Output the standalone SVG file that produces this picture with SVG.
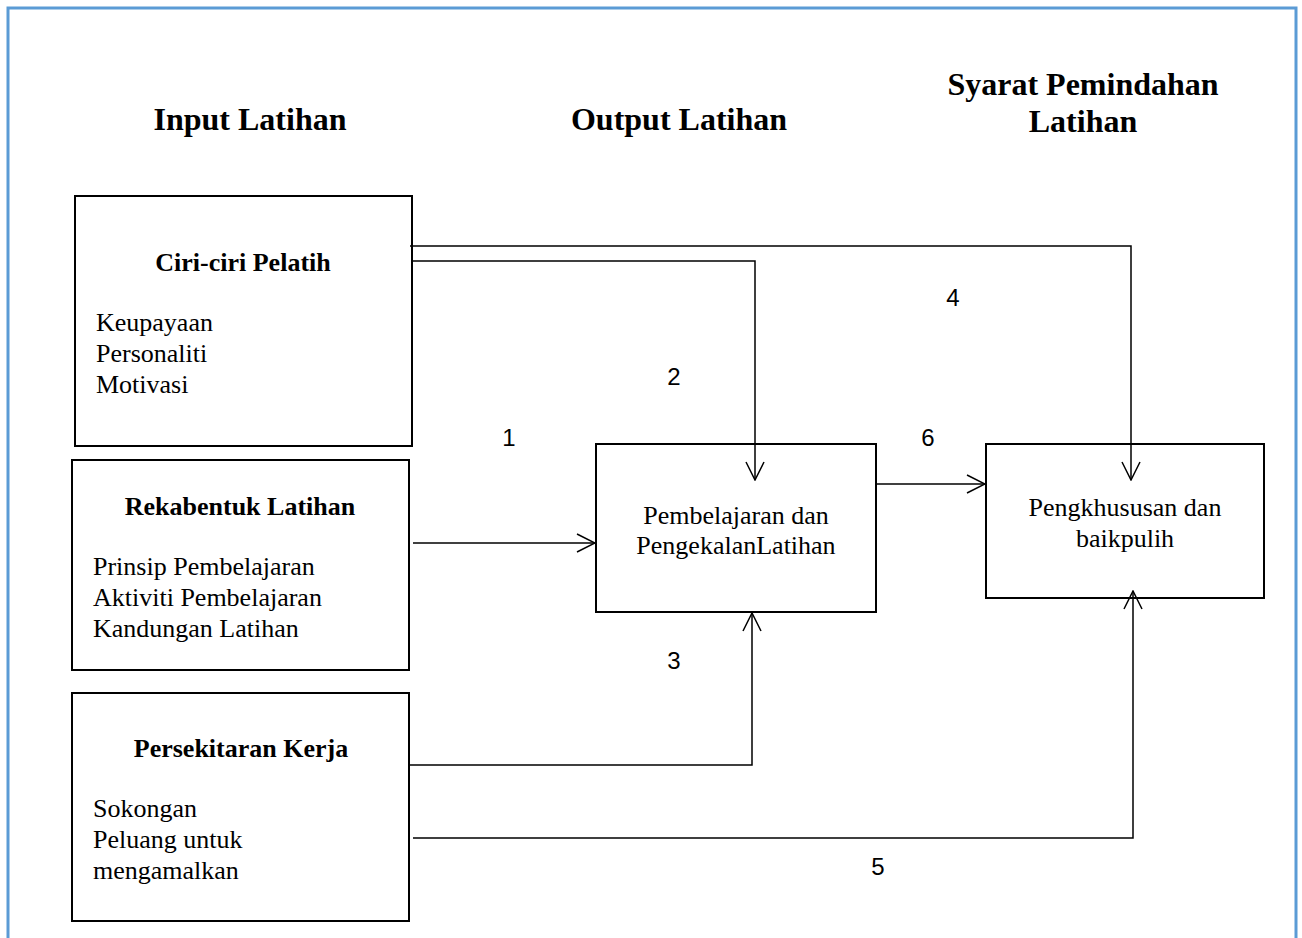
<svg xmlns="http://www.w3.org/2000/svg" width="1302" height="938" viewBox="0 0 1302 938">
<style>
.box{fill:#fff;stroke:#000;stroke-width:2}
.ttl{font-family:"Liberation Serif",serif;font-weight:bold;font-size:32px;text-anchor:middle}
.hd{font-family:"Liberation Serif",serif;font-weight:bold;font-size:26px;text-anchor:middle}
.bd{font-family:"Liberation Serif",serif;font-size:26px}
.ctr{text-anchor:middle}
.num{font-family:"Liberation Sans",sans-serif;font-size:24px;text-anchor:middle}
.ln{fill:none;stroke:#000;stroke-width:1.5}
</style>
<defs>
<marker id="ah" viewBox="0 0 20 20" refX="19" refY="10" markerWidth="20" markerHeight="20" markerUnits="userSpaceOnUse" orient="auto">
<path d="M1,1 L19,10 L1,19" fill="none" stroke="#000" stroke-width="1.5"/>
</marker>
</defs>
<rect x="0" y="0" width="1302" height="938" fill="#fff"/>
<path d="M8,938 V8 H1296 V938" fill="none" stroke="#5b9bd5" stroke-width="3"/>
<text class="ttl" x="250" y="130">Input Latihan</text>
<text class="ttl" x="679" y="130">Output Latihan</text>
<text class="ttl" x="1083" y="95">Syarat Pemindahan</text>
<text class="ttl" x="1083" y="132">Latihan</text>
<g id="ciri">
<rect class="box" x="75" y="196" width="337" height="250"/>
<text class="hd" x="243" y="271">Ciri-ciri Pelatih</text>
<text class="bd" x="96" y="331">Keupayaan</text>
<text class="bd" x="96" y="362">Personaliti</text>
<text class="bd" x="96" y="393">Motivasi</text>
</g>
<g id="rekabentuk">
<rect class="box" x="72" y="460" width="337" height="210"/>
<text class="hd" x="240" y="515">Rekabentuk Latihan</text>
<text class="bd" x="93" y="575">Prinsip Pembelajaran</text>
<text class="bd" x="93" y="606">Aktiviti Pembelajaran</text>
<text class="bd" x="93" y="637">Kandungan Latihan</text>
</g>
<g id="persekitaran">
<rect class="box" x="72" y="693" width="337" height="228"/>
<text class="hd" x="241" y="757">Persekitaran Kerja</text>
<text class="bd" x="93" y="817">Sokongan</text>
<text class="bd" x="93" y="848">Peluang untuk</text>
<text class="bd" x="93" y="879">mengamalkan</text>
</g>
<g id="pembelajaran">
<rect class="box" x="596" y="444" width="280" height="168"/>
<text class="bd ctr" x="736" y="524">Pembelajaran dan</text>
<text class="bd ctr" x="736" y="554">PengekalanLatihan</text>
</g>
<g id="pengkhususan">
<rect class="box" x="986" y="444" width="278" height="154"/>
<text class="bd ctr" x="1125" y="516">Pengkhususan dan</text>
<text class="bd ctr" x="1125" y="547">baikpulih</text>
</g>
<g id="connectors">
<path class="ln" d="M410,246 H1131 V480" marker-end="url(#ah)"/>
<path class="ln" d="M413,261 H755 V480" marker-end="url(#ah)"/>
<path class="ln" d="M413,543 H595" marker-end="url(#ah)"/>
<path class="ln" d="M876,484 H985" marker-end="url(#ah)"/>
<path class="ln" d="M409,765 H752 V613" marker-end="url(#ah)"/>
<path class="ln" d="M413,838 H1133 V591" marker-end="url(#ah)"/>
</g>
<g id="labels">
<text class="num" x="509" y="446">1</text>
<text class="num" x="674" y="385">2</text>
<text class="num" x="674" y="669">3</text>
<text class="num" x="953" y="306">4</text>
<text class="num" x="878" y="875">5</text>
<text class="num" x="928" y="446">6</text>
</g>
</svg>
